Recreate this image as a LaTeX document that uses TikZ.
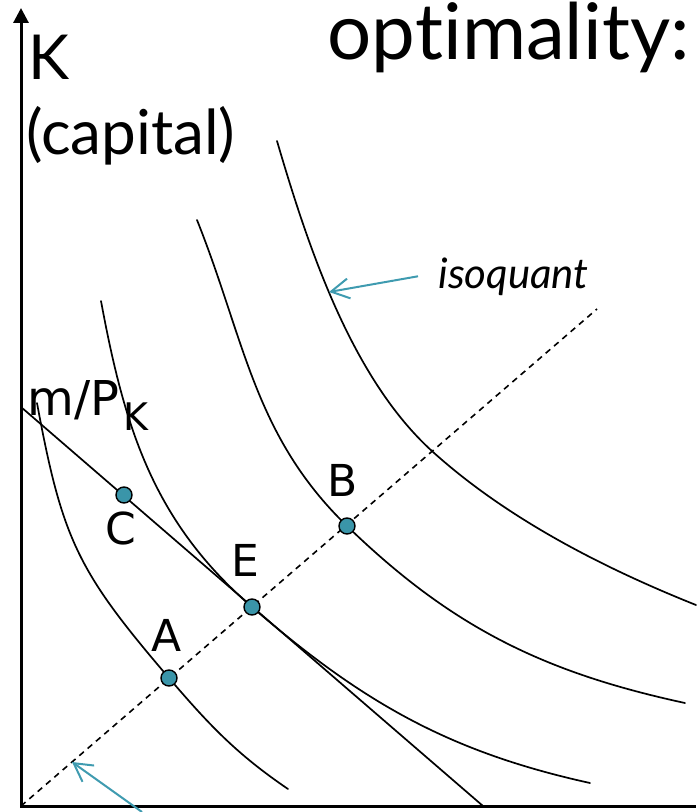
\documentclass[tikz,border=0pt]{standalone}
\usepackage{fontspec}
\setmainfont{Lato}[Ligatures={TeX,NoCommon}]
\newfontfamily\dejavu{DejaVu Sans}
\usetikzlibrary{arrows.meta}
\definecolor{dotTeal}{HTML}{3A95A9}
\definecolor{arrowTeal}{HTML}{3F9BB0}

\begin{document}
\begin{tikzpicture}[x=0.5pt, y=-0.5pt,
    isoCurve/.style={draw=black, line width=0.85pt, line cap=round},
    budgetLine/.style={draw=black, line width=0.85pt},
    rayLine/.style={draw=black, line width=0.8pt, dash pattern=on 3pt off 2.5pt},
    axisLine/.style={draw=black, line width=1.5pt},
    ptDot/.style={circle, draw=black, line width=0.7pt, fill=dotTeal, minimum size=8pt, inner sep=0pt},
    ptLabel/.style={font=\dejavu\fontsize{22}{22}\selectfont, inner sep=0pt},
    axisLabel/.style={font=\fontsize{31}{31}\selectfont, inner sep=0pt, anchor=base west},
    noteArrow/.style={draw=arrowTeal, line width=1pt, -{Straight Barb[length=9pt, width=10pt]}},
]
\useasboundingbox (0,0) rectangle (696,812);

% axes
\coordinate (O) at (21,806);
\coordinate (kTop) at (21,8);
\coordinate (lEnd) at (696,806);
\draw[axisLine, {Triangle[length=7.5pt, width=7.5pt]}-] (kTop) -- (O) -- (lEnd);

% title and axis labels
\node[font=\fontsize{39}{39}\selectfont, inner sep=0pt, anchor=base east] (title) at (690,60) {optimality:};
\node[axisLabel] (kLabel) at (28,80) {K};
\node[axisLabel] (capLabel) at (26,155) {(capital)};
\node[font=\dejavu\fontsize{24}{24}\selectfont, inner sep=0pt, anchor=base west] (mpLabel) at (27,415)
    {m/P\kern2pt\raisebox{-7.5pt}{\fontsize{19}{19}\selectfont K}};

% isoquants
\coordinate (qA) at (169,678);
\coordinate (qE) at (252,607);
\coordinate (qB) at (347,526);
\coordinate (qD) at (433,452);
\draw[isoCurve] (37,403) .. controls +(25.5,137.6) and +(-91,-106.4) .. (qA)
                         .. controls +(40.3,47.1) and +(-51.3,-34.9) .. (288,789);
\draw[isoCurve] (101,301) .. controls +(23.7,127.8) and +(-98.3,-85) .. (qE)
                          .. controls +(109.6,94.8) and +(-141.7,-31.2) .. (590,783);
\draw[isoCurve] (197,220) .. controls +(48.2,120.6) and +(-93.3,-90.5) .. (qB)
                          .. controls +(104.1,100.9) and +(-141.7,-30.6) .. (685,703);
\draw[isoCurve] (277,141) .. controls +(31,105.5) and +(-81.7,-73.6) .. (qD)
                          .. controls +(74.3,66.9) and +(-92.8,-37.1) .. (696,605);

% budget line and expansion ray
\coordinate (mK) at (21,407);
\coordinate (mL) at (483,806);
\draw[budgetLine] (mK) -- (mL);
\coordinate (rayEnd) at (597,309);
\draw[rayLine] (O) -- (rayEnd);

% points
\node[ptDot] (C) at (124,495) {};
\node[ptDot] (E) at (qE) {};
\node[ptDot] (A) at (qA) {};
\node[ptDot] (B) at (qB) {};
\node[ptLabel] (labC) at (121,528) {C};
\node[ptLabel] (labE) at (245,560) {E};
\node[ptLabel] (labA) at (167,635) {A};
\node[ptLabel] (labB) at (343,480) {B};

% notes
\node[font=\itshape\fontsize{21}{21}\selectfont, inner sep=0pt, anchor=base west] (isoLabel) at (438,288) {isoquant};
\coordinate (isoTip) at (329,292);
\draw[noteArrow] ([xshift=-10pt]isoLabel.west) -- (isoTip);
\coordinate (rayTail) at (142,812);
\coordinate (rayTip) at (72,762);
\draw[noteArrow] (rayTail) -- (rayTip);
\end{tikzpicture}
\end{document}
